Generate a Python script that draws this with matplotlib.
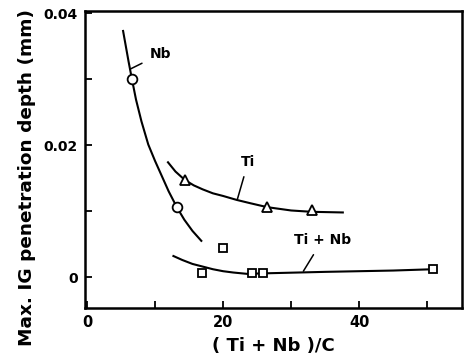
import matplotlib
matplotlib.use("Agg")
import matplotlib.pyplot as plt
from matplotlib.ticker import FixedLocator

# measured points
nb_x = [6.6, 13.2]
nb_y = [0.0300, 0.0106]
ti_x = [14.4, 26.5, 33.0]
ti_y = [0.0147, 0.0106, 0.0101]
tinb_x = [16.9, 20.0, 24.3, 25.9, 50.9]
tinb_y = [0.0006, 0.0044, 0.0006, 0.0006, 0.0012]

# hand-drawn trend curves
nb_cx = [5.3, 5.7, 6.1, 6.6, 7.2, 8.0, 9.0, 10.0, 11.0, 12.0, 13.2, 14.3, 15.5, 16.8]
nb_cy = [0.0373, 0.0350, 0.0327, 0.0300, 0.0269, 0.0236, 0.0201, 0.0176, 0.0153, 0.0130,
         0.0106, 0.0087, 0.0070, 0.0055]
ti_cx = [11.9, 13.0, 14.4, 15.7, 17.0, 18.5, 20.0, 22.0, 24.0, 26.5, 30.0, 33.0, 37.6]
ti_cy = [0.0174, 0.0160, 0.0147, 0.0139, 0.0133, 0.0127, 0.0123, 0.0117, 0.0112, 0.0106,
         0.0101, 0.0099, 0.0098]
tinb_cx = [12.7, 14.0, 15.5, 17.0, 18.5, 20.0, 21.5, 23.5, 27.0, 35.0, 45.0, 50.9]
tinb_cy = [0.0032, 0.0026, 0.0020, 0.0016, 0.0012, 0.0009, 0.0007, 0.0005, 0.0006,
           0.0008, 0.0010, 0.0012]

fig = plt.figure(figsize=(4.67, 3.6), dpi=100)
ax = fig.add_axes([0.182, 0.144, 0.807, 0.825])

lw = 1.5
ax.plot(nb_cx, nb_cy, color='black', lw=lw)
ax.plot(ti_cx, ti_cy, color='black', lw=lw)
ax.plot(tinb_cx, tinb_cy, color='black', lw=lw)

ax.plot(nb_x, nb_y, 'o', ms=7, mfc='white', mec='black', mew=1.3, ls='none')
ax.plot(ti_x, ti_y, '^', ms=7, mfc='white', mec='black', mew=1.3, ls='none')
ax.plot(tinb_x, tinb_y, 's', ms=6, mfc='white', mec='black', mew=1.3, ls='none')

lab = dict(fontsize=10, fontweight='bold', ha='center', va='center',
           arrowprops=dict(arrowstyle='-', color='black', lw=1.1, shrinkA=4, shrinkB=0))
ax.annotate('Nb', xy=(6.3, 0.0315), xytext=(10.8, 0.0338), **lab)
ax.annotate('Ti', xy=(22.1, 0.0118), xytext=(23.7, 0.0175), **lab)
ax.annotate('Ti + Nb', xy=(31.8, 0.0009), xytext=(34.6, 0.0056), **lab)

ax.set_xlim(-0.3, 55.1)
ax.set_ylim(-0.0047, 0.0403)

ax.xaxis.set_major_locator(FixedLocator([0, 20, 40]))
ax.xaxis.set_minor_locator(FixedLocator([10, 30, 50]))
ax.yaxis.set_major_locator(FixedLocator([0, 0.02, 0.04]))
ax.yaxis.set_minor_locator(FixedLocator([0.01, 0.03]))
ax.set_xticklabels(['0', '20', '40'], fontsize=10.5, fontweight='bold')
ax.set_yticklabels(['0', '0.02', '0.04'], fontsize=10, fontweight='bold')
ax.tick_params(which='both', direction='in', length=5, width=1.3, pad=5)

for s in ax.spines.values():
    s.set_linewidth(1.8)

ax.set_xlabel('( Ti + Nb )/C', fontsize=13, fontweight='bold', labelpad=5)
ax.set_ylabel('Max. IG penetration depth (mm)', fontsize=13.3, fontweight='bold')
ax.yaxis.set_label_coords(-0.13, 0.44)

fig.savefig('out.png', dpi=100)
